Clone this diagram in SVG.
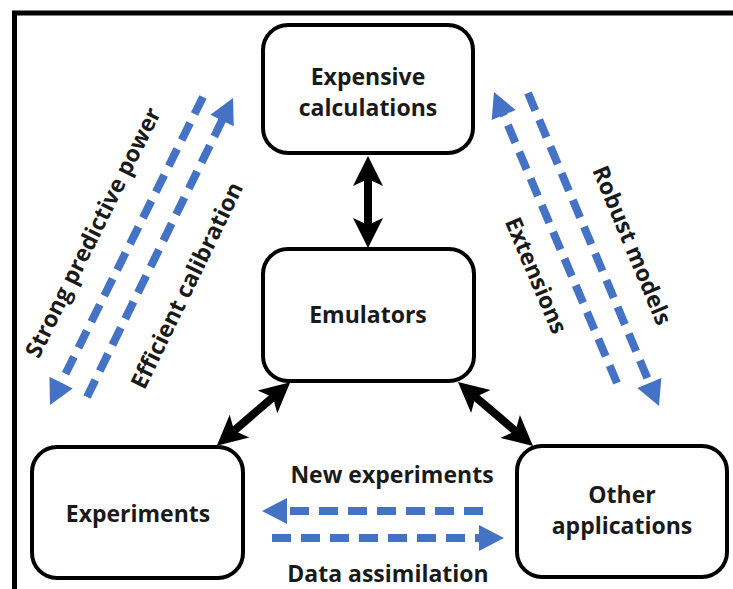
<svg xmlns="http://www.w3.org/2000/svg" width="733" height="589" viewBox="0 0 733 589">
<style>
.node rect{fill:#fff;stroke:#000;stroke-width:4}
.lbl{font-family:"Open Sans","Noto Sans",sans-serif;font-weight:700;font-size:23px;fill:#1a1a1a;text-anchor:middle;dominant-baseline:central}
.blk{stroke:#000;stroke-width:8;fill:none}
.blu{stroke:#4472C4;stroke-width:8;fill:none;stroke-dasharray:19 10}
</style>
<defs>
<marker id="bh" markerUnits="userSpaceOnUse" viewBox="-30 -20 60 40" markerWidth="60" markerHeight="40" refX="0" refY="0" orient="auto-start-reverse">
<path d="M18,0 L-12,-15 L-5,0 L-12,15 Z" fill="#000"/>
</marker>
<marker id="uh" markerUnits="userSpaceOnUse" viewBox="-30 -20 60 40" markerWidth="60" markerHeight="40" refX="0" refY="0" orient="auto">
<path d="M14,0 L-11,-13 L-11,13 Z" fill="#4472C4"/>
</marker>
</defs>
<rect x="14.5" y="13" width="800" height="700" fill="none" stroke="#000" stroke-width="5"/>
<g id="connectors">
<line class="blk" x1="368" y1="174" x2="368" y2="230" marker-start="url(#bh)" marker-end="url(#bh)"/>
<line class="blk" x1="230.4" y1="433.9" x2="276.6" y2="394.1" marker-start="url(#bh)" marker-end="url(#bh)"/>
<line class="blk" x1="471.7" y1="393.7" x2="519.3" y2="434.3" marker-start="url(#bh)" marker-end="url(#bh)"/>
<line class="blu" x1="203" y1="97" x2="56.2" y2="392.5" marker-end="url(#uh)"/>
<line class="blu" x1="87" y1="397" x2="226.9" y2="110.6" marker-end="url(#uh)"/>
<line class="blu" x1="617" y1="383" x2="499.4" y2="104.9" marker-end="url(#uh)"/>
<line class="blu" x1="528" y1="93" x2="653.6" y2="393.1" marker-end="url(#uh)"/>
<line class="blu" x1="483" y1="511" x2="276" y2="511" marker-end="url(#uh)"/>
<line class="blu" x1="272" y1="538" x2="490" y2="538" marker-end="url(#uh)"/>
<text class="lbl" transform="translate(92,232) rotate(-63.6)">Strong predictive power</text>
<text class="lbl" transform="translate(186,285) rotate(-64)">Efficient calibration</text>
<text class="lbl" transform="translate(633,245) rotate(67.3)">Robust models</text>
<text class="lbl" transform="translate(537,275) rotate(67)">Extensions</text>
<text class="lbl" x="392" y="474">New experiments</text>
<text class="lbl" x="388" y="573">Data assimilation</text>
</g>
<g id="expensive" class="node">
<rect x="263" y="25" width="210" height="128" rx="25"/>
<text class="lbl" x="368" y="76">Expensive</text>
<text class="lbl" x="368" y="107">calculations</text>
</g>
<g id="emulators" class="node">
<rect x="263" y="249" width="211" height="132" rx="25"/>
<text class="lbl" x="368" y="314">Emulators</text>
</g>
<g id="experiments" class="node">
<rect x="32" y="447" width="211" height="131" rx="25"/>
<text class="lbl" x="138" y="513">Experiments</text>
</g>
<g id="other" class="node">
<rect x="517" y="446" width="210" height="131" rx="25"/>
<text class="lbl" x="622" y="494">Other</text>
<text class="lbl" x="622" y="525">applications</text>
</g>
</svg>
